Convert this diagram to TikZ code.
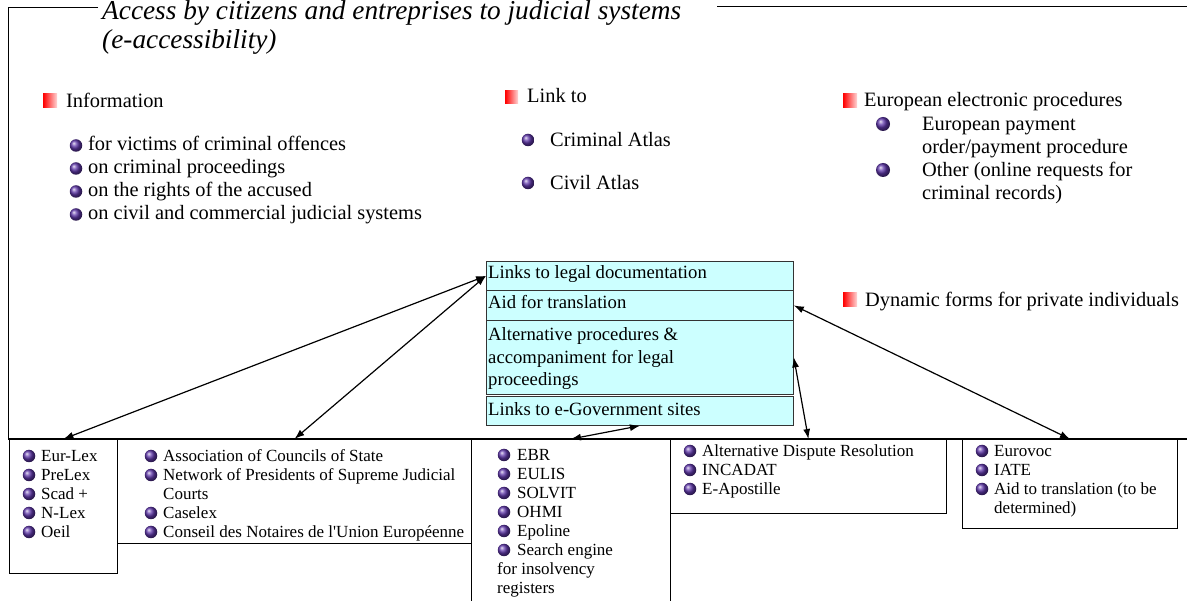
\documentclass[tikz,border=0pt]{standalone}
\usepackage{fontspec}
\setmainfont{Liberation Serif}
\newfontfamily\plainserif{Liberation Serif}
\usetikzlibrary{arrows.meta}
\definecolor{boxcyan}{HTML}{CCFFFF}
\definecolor{bulcol}{RGB}{95,55,170}
\begin{document}
\begin{tikzpicture}[x=1pt,y=-1pt,
  title/.style={anchor=base west, inner sep=0, font=\fontsize{27.3}{31}\selectfont\itshape},
  tx/.style={anchor=base west, inner sep=0, font=\fontsize{20.4}{23}\selectfont},
  sm/.style={anchor=base west, inner sep=0, font=\fontsize{17}{19}\selectfont},
  cy/.style={anchor=base west, inner sep=0, font=\fontsize{18.7}{22.5}\selectfont},
  bul/.style={circle, inner sep=0, minimum size=12.5pt, shade, ball color=bulcol},
  bulbig/.style={bul, minimum size=14pt},
  rsq/.style={rectangle, inner sep=0, minimum size=14pt, anchor=south west, left color=red, right color=red!15},
  rowbox/.style={draw=black!80, line width=0.8pt, fill=boxcyan, minimum width=307pt, inner sep=0, anchor=north west},
  botbox/.style={draw, line width=0.9pt, inner sep=0, anchor=north west},
  frame/.style={line width=1pt},
  arr/.style={{Latex[length=10pt,width=7pt]}-{Latex[length=10pt,width=7pt]}, line width=1.2pt}]
\useasboundingbox (0,0) rectangle (1187,601);
\fill[white] (0,0) rectangle (1187,601);

% title and frame
\node[title] (t1) at (102,20) {Access by citizens and entreprises to judicial systems};
\node[title] (t2) at (102,49) {(e-accessibility)};
\draw[frame] (98,8) -- (8,8) -- (8,439);
\draw[frame] (717,7) -- (1187,7);

% Information
\node[rsq] (s1) at (43,108) {};
\node[tx] (info) at (66,108) {Information};
\node[bul] (ib1) at (76,145.5) {};
\node[tx] (i1) at (88,151) {for victims of criminal offences};
\node[bul] (ib2) at (76,168.5) {};
\node[tx] (i2) at (88,174) {on criminal proceedings};
\node[bul] (ib3) at (76,191.5) {};
\node[tx] (i3) at (88,197) {on the rights of the accused};
\node[bul] (ib4) at (76,214.5) {};
\node[tx] (i4) at (88,220) {on civil and commercial judicial systems};

% Link to
\node[rsq, minimum size=13pt] (s2) at (505,104) {};
\node[tx] (link) at (527,103) {Link to};
\node[bul] (lb1) at (528,140) {};
\node[tx] (l1) at (550,146.5) {Criminal Atlas};
\node[bul] (lb2) at (528,183) {};
\node[tx] (l2) at (550,189.5) {Civil Atlas};

% European electronic procedures
\node[rsq] (s3) at (843,108) {};
\node[tx] (eep) at (864,107) {European electronic procedures};
\node[bulbig] (eb1) at (883,124) {};
\node[tx] (e1a) at (922,131) {European payment};
\node[tx] (e1b) at (922,154) {order/payment procedure};
\node[bulbig] (eb2) at (883,170) {};
\node[tx] (e2a) at (922,177) {Other (online requests for};
\node[tx] (e2b) at (922,200) {criminal records)};

% Dynamic forms
\node[rsq] (s4) at (843,307) {};
\node[tx] (dyn) at (865,307) {Dynamic forms for private individuals};

% central cyan box
\node[rowbox, minimum height=29pt] (row1) at (486,261) {};
\node[rowbox, minimum height=30pt] (row2) at (486,290) {};
\node[rowbox, minimum height=74pt] (row3) at (486,320) {};
\node[rowbox, minimum height=29pt] (row4) at (486,396) {};
\node[cy] (r1) at (488,279) {Links to legal documentation};
\node[cy] (r2) at (488,309) {Aid for translation};
\node[cy] (r3a) at (488,341) {Alternative procedures \&};
\node[cy] (r3b) at (488,363.5) {accompaniment for legal};
\node[cy] (r3c) at (488,386) {proceedings};
\node[cy] (r4) at (488,416) {Links to e-Government sites};

% bottom boxes
\node[botbox, minimum width=108pt, minimum height=134pt] (box1) at (9,439) {};
\node[botbox, minimum width=354pt, minimum height=104pt] (box2) at (117,439) {};
\node[botbox, minimum width=199pt, minimum height=175pt] (box3) at (471,439) {};
\node[botbox, minimum width=276pt, minimum height=74pt] (box4) at (670,439) {};
\node[botbox, minimum width=215pt, minimum height=89pt] (box5) at (962,439) {};
\draw[line width=1.2pt] (8,439) -- (1187,439);

% box1
\node[bul] (a1) at (29,456) {};  \node[sm] (at1) at (41,461.5) {Eur-Lex};
\node[bul] (a2) at (29,475) {};  \node[sm] (at2) at (41,480.5) {PreLex};
\node[bul] (a3) at (29,494) {};  \node[sm] (at3) at (41,499.5) {Scad +};
\node[bul] (a4) at (29,513) {};  \node[sm] (at4) at (41,518.5) {N-Lex};
\node[bul] (a5) at (29,532) {};  \node[sm] (at5) at (41,537.5) {Oeil};

% box2
\node[bul] (b1) at (151,456) {}; \node[sm] (bt1) at (163,461.5) {Association of Councils of State};
\node[bul] (b2) at (151,475) {}; \node[sm] (bt2) at (163,480.5) {Network of Presidents of Supreme Judicial};
\node[sm] (bt2b) at (163,499.5) {Courts};
\node[bul] (b3) at (151,513) {}; \node[sm] (bt3) at (163,518.5) {Caselex};
\node[bul] (b4) at (151,532) {}; \node[sm] (bt4) at (163,537.5) {\plainserif Conseil des Notaires de l'Union Européenne};

% box3
\node[bul] (c1) at (504,455) {}; \node[sm] (ct1) at (517,460.5) {EBR};
\node[bul] (c2) at (504,474) {}; \node[sm] (ct2) at (517,479.5) {EULIS};
\node[bul] (c3) at (504,493) {}; \node[sm] (ct3) at (517,498.5) {SOLVIT};
\node[bul] (c4) at (504,512) {}; \node[sm] (ct4) at (517,517.5) {OHMI};
\node[bul] (c5) at (504,531) {}; \node[sm] (ct5) at (517,536.5) {Epoline};
\node[bul] (c6) at (504,550) {}; \node[sm] (ct6) at (517,555.5) {Search engine};
\node[sm] (ct6b) at (497,574.5) {for insolvency};
\node[sm] (ct6c) at (497,593.5) {registers};

% box4
\node[bul] (d1) at (690,451) {}; \node[sm] (dt1) at (702,456.5) {Alternative Dispute Resolution};
\node[bul] (d2) at (690,470) {}; \node[sm] (dt2) at (702,475.5) {INCADAT};
\node[bul] (d3) at (690,489) {}; \node[sm] (dt3) at (702,494.5) {E-Apostille};

% box5
\node[bul] (f1) at (982,451) {}; \node[sm] (ft1) at (994,456.5) {Eurovoc};
\node[bul] (f2) at (982,470) {}; \node[sm] (ft2) at (994,475.5) {IATE};
\node[bul] (f3) at (982,489) {}; \node[sm] (ft3) at (994,494.5) {Aid to translation (to be};
\node[sm] (ft3b) at (994,513.5) {determined)};

% connectors
\draw[arr] (box1.north) -- (row1.west);
\draw[arr] (box2.north) -- (row1.west);
\draw[arr] (box3.north) -- (row4.south);
\draw[arr] (box4.north) -- (row3.east);
\draw[arr] (box5.north) -- (row2.east);
\end{tikzpicture}
\end{document}
